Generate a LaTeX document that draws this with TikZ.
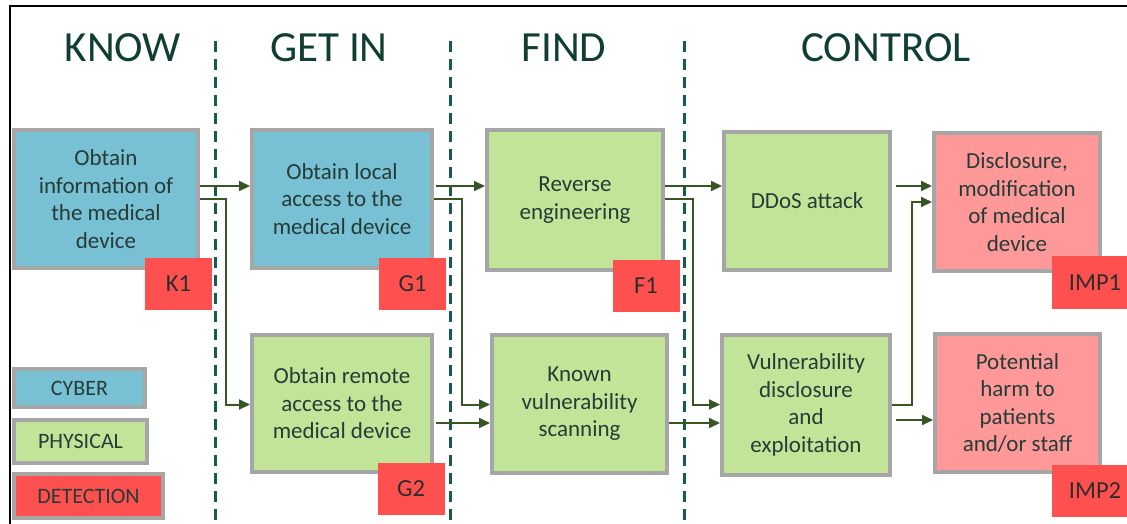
\documentclass[tikz,border=0pt]{standalone}
\usepackage{fontspec}
\setmainfont{Carlito}
\usetikzlibrary{arrows.meta}
\definecolor{cyber}{RGB}{120,192,212}
\definecolor{phys}{RGB}{194,228,152}
\definecolor{impact}{RGB}{255,153,153}
\definecolor{detect}{RGB}{255,80,80}
\definecolor{bordergray}{RGB}{166,166,166}
\definecolor{arrowgreen}{RGB}{55,86,35}
\definecolor{dashteal}{RGB}{23,90,78}
\definecolor{titlecol}{RGB}{16,62,52}
\definecolor{bodytext}{RGB}{38,60,55}
\definecolor{labeltext}{RGB}{45,45,45}
\tikzset{
  box/.style={draw=bordergray, line width=4pt, rectangle, align=center,
    text=bodytext, font=\fontsize{23}{27.5}\selectfont, inner sep=2pt},
  tag/.style={fill=detect, rectangle, minimum width=67pt, minimum height=52pt,
    text=labeltext, font=\fontsize{24.5}{28}\selectfont, inner sep=0pt},
  legend/.style={draw=bordergray, line width=4pt, rectangle,
    text=bodytext, font=\fontsize{22}{26}\selectfont, inner sep=0pt},
  title/.style={text=titlecol, font=\fontsize{43}{50}\selectfont, anchor=base, inner sep=0pt},
  phase/.style={draw=dashteal, line width=3pt, dash pattern=on 11pt off 7pt},
  arr/.style={draw=arrowgreen, line width=2pt, -{Triangle[length=11pt,width=10pt]}},
}
\begin{document}
\begin{tikzpicture}[x=1pt,y=-1pt]
\useasboundingbox (0,0) rectangle (1127,523);
\clip (0,0) rectangle (1127,523);
\fill[white] (0,0) rectangle (1127,523);
% frame
\draw[line width=2pt, black] (10,530) -- (10,6) -- (1130,6);
% titles
\node[title] (tknow) at (123,61) {KNOW};
\node[title] (tget) at (329,61) {GET IN};
\node[title] (tfind) at (564,61) {FIND};
\node[title] (tctrl) at (886,61) {CONTROL};
% phase separators
\draw[phase] (215,41) -- (215,523);
\draw[phase] (450,41) -- (450,523);
\draw[phase] (684,41) -- (684,523);
% boxes
\node[box, fill=cyber, minimum width=184pt, minimum height=138pt] (k1) at (106,199)
  {Obtain\\information of\\the medical\\device};
\node[box, fill=cyber, minimum width=180pt, minimum height=138pt] (g1) at (342,199)
  {Obtain local\\access to the\\medical device};
\node[box, fill=phys, minimum width=176pt, minimum height=140pt] (f1) at (575,200)
  {Reverse\\engineering};
\node[box, fill=phys, minimum width=166pt, minimum height=138pt] (ddos) at (807,201)
  {DDoS attack};
\node[box, fill=impact, minimum width=166pt, minimum height=138pt] (imp1) at (1017,202)
  {Disclosure,\\modification\\of medical\\device};
\node[box, fill=phys, minimum width=180pt, minimum height=137pt] (g2) at (342,403.5)
  {Obtain remote\\access to the\\medical device};
\node[box, fill=phys, minimum width=175pt, minimum height=138pt] (kv) at (579.5,404)
  {Known\\vulnerability\\scanning};
\node[box, fill=phys, minimum width=168pt, minimum height=140pt] (vd) at (806,405)
  {Vulnerability\\disclosure\\and\\exploitation};
\node[box, fill=impact, minimum width=165pt, minimum height=138pt] (imp2) at (1017.5,403)
  {Potential\\harm to\\patients\\and/or staff};
% detection tags
\node[tag] (tk1) at (178.5,284) {K1};
\node[tag] (tg1) at (412.5,284) {G1};
\node[tag] (tf1) at (646,285.5) {F1};
\node[tag, minimum width=86pt, minimum height=53pt] (timp1) at (1095,282.5) {IMP1};
\node[tag] (tg2) at (411,488.5) {G2};
\node[tag, minimum width=86pt, minimum height=52pt] (timp2) at (1095,491) {IMP2};
% legend
\node[legend, fill=cyber, minimum width=131pt, minimum height=38pt] (lc) at (79.5,388) {CYBER};
\node[legend, fill=phys, minimum width=133pt, minimum height=43pt] (lp) at (80.5,441.5) {PHYSICAL};
\node[legend, fill=detect, minimum width=149pt, minimum height=44pt] (ld) at (88.5,496) {DETECTION};
% levels
\coordinate (ya) at (0,186);
\coordinate (yb) at (0,199);
\coordinate (yc) at (0,404.5);
\coordinate (yd) at (0,423);
\coordinate (ye) at (0,420);
\coordinate (yf) at (0,202);
% connectors
\draw[arr] (k1.east |- ya) -- (g1.west |- ya);
\draw[arr] (k1.east |- yb) -| (226,300) |- (g2.west |- yc);
\draw[arr, shorten <=2pt] (g1.east |- ya) -- (f1.west |- ya);
\draw[arr] (g1.east |- yb) -| (462,300) |- (kv.west |- yc);
\draw[arr, shorten <=2pt] (g2.east |- yd) -- (kv.west |- yd);
\draw[arr] (f1.east |- ya) -- (ddos.west |- ya);
\draw[arr] (f1.east |- yb) -| (693,300) |- (vd.west |- yc);
\draw[arr] (kv.east |- yd) -- (vd.west |- yd);
\draw[arr, shorten <=4pt] (ddos.east |- ya) -- (imp1.west |- ya);
\draw[arr] (vd.east |- yc) -| (912,300) |- (imp1.west |- yf);
\draw[arr, shorten <=4pt] (vd.east |- ye) -- (imp2.west |- ye);
\end{tikzpicture}
\end{document}
